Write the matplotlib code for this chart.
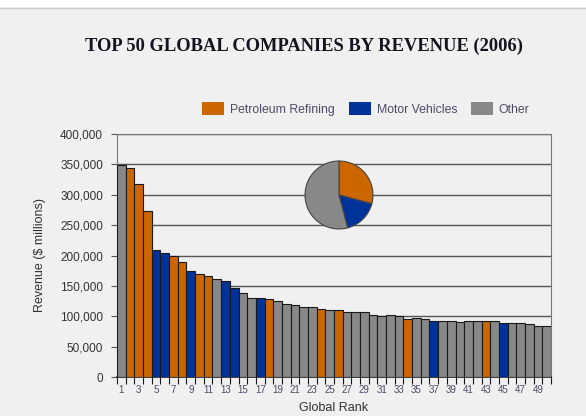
import matplotlib
matplotlib.use("Agg")
import matplotlib.pyplot as plt
from matplotlib.patches import Patch, Rectangle
from matplotlib.lines import Line2D
from matplotlib.ticker import FuncFormatter

# revenue of the top 50 companies, $ millions, by global rank
revenue = [349000, 344500, 318000, 273000, 208500, 204000, 199700, 190000, 174000, 169000,
           167000, 161000, 158500, 147000, 138000, 130500, 130500, 128000, 125000, 120000,
           118000, 115000, 115000, 112500, 110000, 109500, 106500, 106500, 106500, 101500,
           100000, 101500, 100000, 96000, 97000, 95000, 93000, 93000, 93000, 90500,
           92000, 92000, 92000, 92000, 89000, 89000, 89000, 86700, 84000, 84000]
# P = petroleum refining, M = motor vehicles, O = other
sector = list("OPPPMMPPMPPOMMOOMPOOOOOPOPOOOOOOOPOOMOOOOOPOMOOOOO")

categories = ["Petroleum Refining", "Motor Vehicles", "Other"]
pie_share = [29.2, 16.7, 54.1]  # percent of revenue

colors = {"P": "#cc6600", "M": "#003399", "O": "#888888"}
cat_colors = ["#cc6600", "#003399", "#888888"]
bg = "#f0f0f0"
txt = "#4a4a66"

plt.rcParams["font.family"] = ["Liberation Sans", "DejaVu Sans"]

fig = plt.figure(figsize=(5.86, 4.16), dpi=100, facecolor=bg)
# white strip and thin rule along the top edge
fig.patches.append(Rectangle((0, 1 - 7 / 416), 1, 7 / 416, transform=fig.transFigure,
                             facecolor="white", edgecolor="none", zorder=0))
fig.lines.append(Line2D([0, 1], [1 - 7.5 / 416] * 2, transform=fig.transFigure,
                        color="#cccccc", lw=1))

ax = fig.add_axes([117 / 586, 1 - 377 / 416, 434 / 586, 243 / 416])
ax.set_facecolor(bg)

ranks = list(range(1, len(revenue) + 1))
ax.bar(ranks, revenue, width=1.0, color=[colors[s] for s in sector],
       edgecolor="#1a1a1a", linewidth=0.8, zorder=3)

ax.set_xlim(0.5, 50.5)
ax.set_ylim(0, 400000)
ax.set_yticks(range(0, 400001, 50000))
ax.yaxis.set_major_formatter(FuncFormatter(lambda v, p: f"{int(v):,}"))
ax.grid(axis="y", color="#555555", lw=1, zorder=0)

ax.set_xticks(range(1, 51, 2))
ax.set_xticks([i + 0.5 for i in range(0, 51)], minor=True)
ax.tick_params(axis="x", which="major", length=0, pad=6, labelsize=7, labelcolor=txt)
ax.tick_params(axis="x", which="minor", length=5, width=0.8, color="#1a1a1a", direction="out")
ax.tick_params(axis="y", length=4, width=0.8, color="#555555", labelsize=8.5,
               labelcolor="#333333", pad=6)

for side in ["top", "right", "left"]:
    ax.spines[side].set_color("#777777")
ax.spines["bottom"].set_color("#1a1a1a")
ax.spines["bottom"].set_linewidth(1.2)

ax.set_xlabel("Global Rank", fontsize=9, color="#333333", labelpad=5)
ax.set_ylabel("Revenue ($ millions)", fontsize=9, color="#333333", labelpad=10)

# share of revenue by sector
pax = fig.add_axes([304 / 586, 1 - 230 / 416, 70 / 586, 70 / 416])
pax.pie(pie_share, colors=cat_colors, startangle=90, counterclock=False,
        wedgeprops=dict(edgecolor="#444444", linewidth=0.8))
pax.set_xlim(-1.03, 1.03)
pax.set_ylim(-1.03, 1.03)
pax.set_aspect("equal")

handles = [Patch(facecolor=c, edgecolor="none") for c in cat_colors]
fig.legend(handles, categories, loc="center", bbox_to_anchor=(366 / 586, 1 - 109 / 416),
           ncol=3, frameon=False, fontsize=8.8, labelcolor=txt, handlelength=1.8,
           handleheight=1.3, handletextpad=0.5, columnspacing=1.1)

fig.text(304 / 586, 1 - 46 / 416, "TOP 50 GLOBAL COMPANIES BY REVENUE (2006)",
         ha="center", va="center", fontsize=13.3, fontweight="bold",
         family=["Liberation Serif", "DejaVu Serif"], color="#141420")

fig.savefig("out.png", dpi=100, facecolor=bg)
